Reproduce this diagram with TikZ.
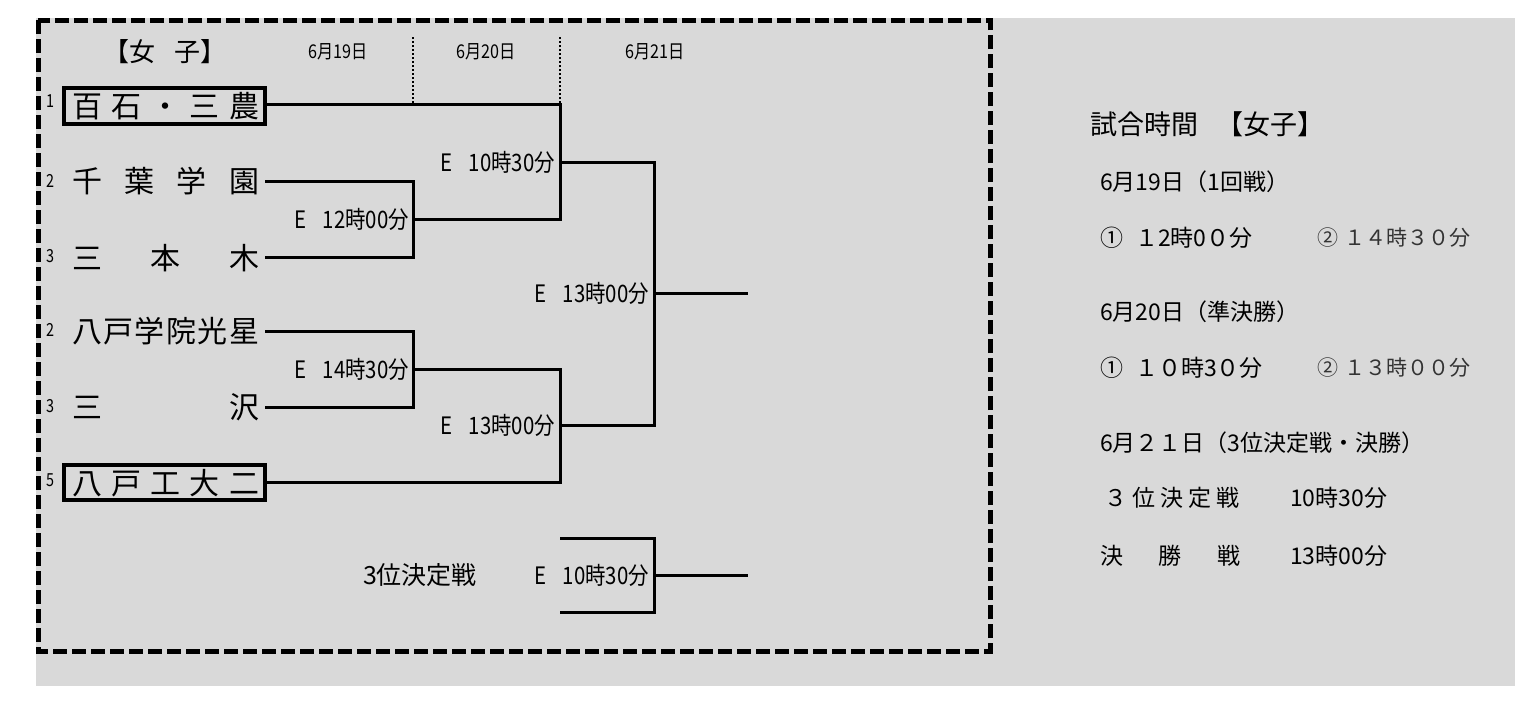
\documentclass[tikz,border=0pt]{standalone}
\usepackage{fontspec}
\setmainfont{Noto Sans CJK JP}
\begin{document}
\begin{tikzpicture}[x=1pt,y=-1pt,
  br/.style={line width=3pt},
  team/.style={anchor=west,inner sep=0pt,font=\fontsize{30}{30}\selectfont},
  seed/.style={font=\fontsize{18}{18}\selectfont\addfontfeatures{FakeStretch=0.8}},
  tm/.style={anchor=east,inner sep=1pt,font=\fontsize{24}{24}\selectfont\addfontfeatures{FakeStretch=0.85}},
  dt/.style={font=\fontsize{19}{19}\selectfont\addfontfeatures{FakeStretch=0.85}},
  rt/.style={anchor=west,inner sep=0pt,font=\fontsize{23}{23}\selectfont}]
\useasboundingbox (0,0) rectangle (1535,707);
\fill[black!15] (36,18) rectangle (1515,686);
\draw[line width=5pt,dash pattern=on 14pt off 5pt] (38,20) rectangle (990,651);
\node[font=\fontsize{26}{26}\selectfont] (hd) at (165,52) {【女\hspace{20pt}子】};
\node[dt] (d1) at (338,52) {6月19日};
\node[dt] (d2) at (486,52) {6月20日};
\node[dt] (d3) at (655,52) {6月21日};
\draw[line width=2pt,dotted] (413,37) -- (413,104);
\draw[line width=2pt,dotted] (560,37) -- (560,104);
% teams
\node[team] (t1) at (72,106) {\makebox[187pt][s]{百\hfill 石\hfill ・\hfill 三\hfill 農}};
\node[team] (t2) at (72,181) {\makebox[187pt][s]{千\hfill 葉\hfill 学\hfill 園}};
\node[team] (t3) at (72,258) {\makebox[187pt][s]{三\hfill 本\hfill 木}};
\node[team] (t4) at (72,331) {\makebox[187pt][s]{八\hfill 戸\hfill 学\hfill 院\hfill 光\hfill 星}};
\node[team] (t5) at (72,407) {\makebox[187pt][s]{三\hfill 沢}};
\node[team] (t6) at (72,483) {\makebox[187pt][s]{八\hfill 戸\hfill 工\hfill 大\hfill 二}};
\draw[line width=4pt] (64,88) rectangle (265,124);
\draw[line width=4pt] (64,465) rectangle (265,500);
\node[seed] (s1) at (50,101) {1};
\node[seed] (s2) at (50,181) {2};
\node[seed] (s3) at (50,256) {3};
\node[seed] (s4) at (50,330) {2};
\node[seed] (s5) at (50,406) {3};
\node[seed] (s6) at (50,480) {5};
% bracket
\draw[br] (265,104) -- (560,104) -- (560,219) -- (413,219);
\draw[br] (265,181) -- (413,181) -- (413,257) -- (265,257);
\draw[br] (560,162) -- (654,162) -- (654,425) -- (560,425);
\draw[br] (654,293) -- (748,293);
\draw[br] (265,331) -- (413,331) -- (413,407) -- (265,407);
\draw[br] (413,369) -- (560,369) -- (560,482) -- (265,482);
\draw[br] (560,538) -- (654,538) -- (654,612) -- (560,612);
\draw[br] (654,575) -- (748,575);
\node[tm] (m1) at (410,219) {E\hspace{16pt}12時00分};
\node[tm] (m2) at (556,162) {E\hspace{16pt}10時30分};
\node[tm] (m3) at (650,293) {E\hspace{16pt}13時00分};
\node[tm] (m4) at (410,369) {E\hspace{16pt}14時30分};
\node[tm] (m5) at (556,425) {E\hspace{16pt}13時00分};
\node[tm] (m6) at (650,575) {E\hspace{16pt}10時30分};
\node[font=\fontsize{25}{25}\selectfont] (l3) at (420,575) {3位決定戦};
% right panel
\node[rt,font=\fontsize{27}{27}\selectfont] (r0) at (1090,124) {試合時間\hspace{18pt}【女子】};
\node[rt] (r1) at (1100,182) {6月19日（1回戦）};
\node[rt] (r2) at (1100,238) {①\hspace{12pt}１2時0０分};
\node[rt,font=\fontsize{21}{21}\selectfont\color{black!80}] (r3) at (1317,238) {②\hspace{6pt}１４時３０分};
\node[rt] (r4) at (1100,312) {6月20日（準決勝）};
\node[rt] (r5) at (1100,368) {①\hspace{12pt}１０時3０分};
\node[rt,font=\fontsize{21}{21}\selectfont\color{black!80}] (r6) at (1317,368) {②\hspace{6pt}１３時００分};
\node[rt] (r7) at (1100,443) {6月２１日（3位決定戦・決勝）};
\node[rt] (r8) at (1104,498) {３ 位 決 定 戦};
\node[rt] (r9) at (1290,498) {10時30分};
\node[rt] (r10) at (1100,556) {\makebox[140pt][s]{決\hfill 勝\hfill 戦}};
\node[rt] (r11) at (1290,556) {13時00分};
\end{tikzpicture}
\end{document}
